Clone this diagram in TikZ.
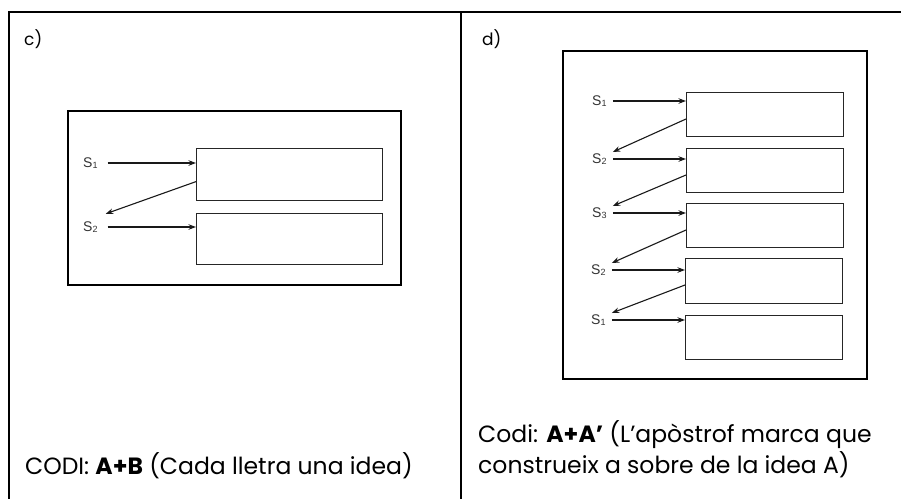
\documentclass[tikz,border=0pt]{standalone}
\usepackage{fontspec}
\setmainfont{Poppins}
\newfontfamily\labfont{Liberation Sans}
\usetikzlibrary{arrows.meta,calc}

\begin{document}
\begin{tikzpicture}[x=1pt,y=-1pt,
  rule/.style={line width=2pt},
  panelframe/.style={draw,line width=2.2pt},
  ideabox/.style={draw=black!85,line width=1.2pt,minimum width=186pt,minimum height=52pt,inner sep=0pt,anchor=north west},
  ideaboxd/.style={ideabox,minimum width=157pt,minimum height=44pt},
  slabel/.style={font=\labfont\fontsize{14}{14}\selectfont,inner sep=0pt,anchor=west,text=black!80},
  feed/.style={-{Stealth[length=7.5pt,width=5.5pt]},line width=1.1pt,black!90},
  tag/.style={font=\fontsize{17}{20}\selectfont,inner sep=0pt,anchor=base west},
  caption/.style={font=\fontsize{23.5}{28}\selectfont,inner sep=0pt,anchor=base west}
]
\newcommand{\sub}[1]{S\raisebox{-0.3pt}{\fontsize{9}{9}\selectfont #1}}

% page extent and table rules
\useasboundingbox (0,0) rectangle (901,499);
\fill[white] (0,0) rectangle (901,499);
\draw[rule] (9,12) -- (901,12);
\draw[rule] (9,11) -- (9,499);
\draw[rule] (461,11) -- (461,499);

% ---------- panel c ----------
\node[tag] (tc) at (24,45) {c)};
\node[panelframe,minimum width=333pt,minimum height=174pt,inner sep=0pt,anchor=north west] (fc) at (67,110) {};
\node[ideabox] (c1) at (196,148) {};
\node[ideabox,minimum height=51pt] (c2) at (196,213) {};
\node[slabel] (cs1) at (83,163) {\sub{1}};
\node[slabel] (cs2) at (83,227) {\sub{2}};
\draw[feed] ([xshift=10pt]cs1.east) -- (cs1.east -| c1.west);
\draw[feed] ([xshift=10pt]cs2.east) -- (cs2.east -| c2.west);
\draw[feed] ($(c1.west)+(0,7)$) -- ($(cs2.north east)+(8,-8)$);
\node[caption] (capc) at (25,474) {CODI: \textbf{A+B} (Cada lletra una idea)};

% ---------- panel d ----------
\node[tag] (td) at (482,45) {d)};
\node[panelframe,minimum width=304pt,minimum height=328pt,inner sep=0pt,anchor=north west] (fd) at (562,50) {};
\node[ideaboxd] (d1) at (686,92) {};
\node[ideaboxd] (d2) at (686,148) {};
\node[ideaboxd] (d3) at (686,203) {};
\node[ideaboxd,minimum height=45pt] (d4) at (685,258) {};
\node[ideaboxd] (d5) at (685,315) {};
\node[slabel] (ds1) at (592,101) {\sub{1}};
\node[slabel] (ds2) at (592,159) {\sub{2}};
\node[slabel] (ds3) at (592,213) {\sub{3}};
\node[slabel] (ds4) at (591,270) {\sub{2}};
\node[slabel] (ds5) at (591,320) {\sub{1}};
\foreach \s/\b in {ds1/d1,ds2/d2,ds3/d3,ds4/d4,ds5/d5}
  \draw[feed] ([xshift=6pt]\s.east) -- (\s.east -| \b.west);
\foreach \b/\s in {d1/ds2,d2/ds3,d3/ds4,d4/ds5}
  \draw[feed] ($(\b.north west)+(0,27)$) -- ($(\s.east)+(6,-7)$);
\node[caption] (capd1) at (478,442) {Codi: \textbf{A+A’} (L’apòstrof marca que};
\node[caption] (capd2) at (478,473) {construeix a sobre de la idea A)};
\end{tikzpicture}
\end{document}
